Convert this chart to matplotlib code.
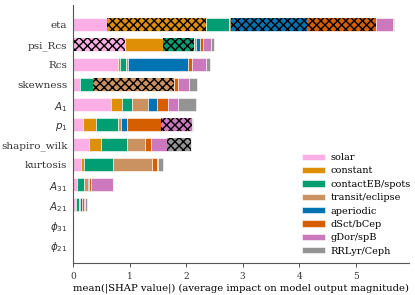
import numpy as np
import matplotlib
matplotlib.use('agg')
import matplotlib.pyplot as plt

features = ["eta", "psi_Rcs", "Rcs", "skewness", "$A_1$", "$p_1$",
            "shapiro_wilk", "kurtosis", "$A_{31}$", "$A_{21}$",
            "$\\phi_{31}$", "$\\phi_{21}$"]
classes = ["solar", "constant", "contactEB/spots", "transit/eclipse",
           "aperiodic", "dSct/bCep", "gDor/spB", "RRLyr/Ceph"]

# mean |SHAP| per class, one list per class (same order as features)
solar     = [0.60, 0.92, 0.80, 0.12, 0.68, 0.18, 0.29, 0.15, 0.065, 0.035, 0.02, 0.005]
constant  = [1.76, 0.68, 0.03, 0.01, 0.18, 0.22, 0.20, 0.04, 0.01, 0.015, 0.0, 0.0]
contactEB = [0.40, 0.54, 0.11, 0.22, 0.19, 0.40, 0.47, 0.51, 0.125, 0.05, 0.0, 0.0]
transit   = [0.03, 0.04, 0.03, 1.43, 0.28, 0.04, 0.32, 0.69, 0.06, 0.03, 0.0, 0.0]
aperiodic = [1.35, 0.06, 1.07, 0.0, 0.15, 0.11, 0.0, 0.0, 0.03, 0.03, 0.0, 0.0]
dsct      = [1.21, 0.05, 0.07, 0.07, 0.20, 0.60, 0.10, 0.10, 0.02, 0.03, 0.0, 0.0]
gdor      = [0.31, 0.15, 0.24, 0.20, 0.17, 0.56, 0.29, 0.02, 0.40, 0.02, 0.0, 0.0]
rrlyr     = [0.01, 0.05, 0.07, 0.15, 0.32, 0.02, 0.41, 0.09, 0.0, 0.03, 0.0, 0.0]

colors = ["#fbafe4", "#de8f05", "#029e73", "#ca9161",
          "#0173b2", "#d55e00", "#cc78bc", "#949494"]
# (feature index, class index) of the hatched segments
hatched = [(0, 1), (0, 4), (0, 5), (1, 0), (1, 2), (3, 3), (5, 6), (6, 7)]

plt.rcParams['font.family'] = 'DejaVu Serif'
plt.rcParams['hatch.linewidth'] = 1.0

fig = plt.figure(figsize=(4.15, 2.95), dpi=100)
ax = fig.add_axes([0.1759, 0.1095, 0.8096, 0.8735])

vals = np.array([solar, constant, contactEB, transit, aperiodic, dsct, gdor, rrlyr])
y = np.arange(len(features))
left = np.zeros(len(features))
for k in range(len(classes)):
    ax.barh(y, vals[k], left=left, height=0.65, color=colors[k],
            edgecolor='white', linewidth=0.4, label=classes[k])
    for (fi, ci) in hatched:
        if ci == k:
            ax.barh(y[fi], vals[k][fi], left=left[fi], height=0.65,
                    color=colors[k], edgecolor='black', linewidth=0, hatch='xxxx')
    left += vals[k]

ax.set_yticks(y)
ax.set_yticklabels(features, fontsize=7.5)
ax.tick_params(axis='y', length=0, pad=4, colors='#333333')
ax.tick_params(axis='x', labelsize=6.5, colors='#333333', length=3, width=0.6)
ax.set_xlim(0, 5.94)
ax.set_ylim(11.9, -1.0)
ax.set_xlabel("mean(|SHAP value|) (average impact on model output magnitude)",
              fontsize=7.2, labelpad=2)
for s in ['top', 'right']:
    ax.spines[s].set_visible(False)
for s in ['left', 'bottom']:
    ax.spines[s].set_color('#555555')
    ax.spines[s].set_linewidth(0.8)

ax.legend(loc='upper left', bbox_to_anchor=(0.727, 0.481), bbox_transform=fig.transFigure,
          frameon=False, fontsize=7, borderaxespad=0, borderpad=0,
          handlelength=2.4, handleheight=0.6, labelspacing=0.45, handletextpad=0.6)

fig.savefig("out.png", dpi=100)
